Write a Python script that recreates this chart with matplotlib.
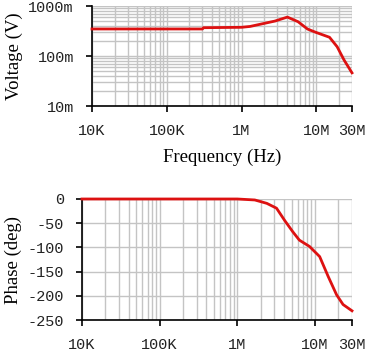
import numpy as np
import matplotlib
matplotlib.use("Agg")
import matplotlib.pyplot as plt
from matplotlib.ticker import FixedLocator, NullFormatter, LogLocator

# Magnitude data
mag_freq = [1e4, 3.0e5, 3.1e5, 1.0e6, 1.3e6, 1.6e6, 2.8e6, 4.1e6, 5.7e6, 7.6e6, 9.8e6, 1.5e7, 1.9e7, 2.35e7, 3.0e7]
mag_volt = [0.347, 0.347, 0.368, 0.375, 0.39, 0.417, 0.50, 0.60, 0.485, 0.347, 0.298, 0.237, 0.153, 0.083, 0.046]

# Phase data
ph_freq = [1e4, 1.0e6, 1.68e6, 2.4e6, 3.2e6, 4.1e6, 5.2e6, 6.3e6, 8.5e6, 1.15e7, 1.48e7, 1.9e7, 2.3e7, 3.0e7]
ph_deg = [0, 0, -2, -9, -19, -45, -68, -85, -98, -119, -160, -198, -218, -231]

x_ticks = [1e4, 1e5, 1e6, 1e7, 3e7]
x_labels = ["10K", "100K", "1M", "10M", "30M"]
mag_ticks = [0.01, 0.1, 1.0]
mag_labels = ["10m", "100m", "1000m"]
ph_ticks = [0, -50, -100, -150, -200, -250]
ph_labels = ["0", "-50", "-100", "-150", "-200", "-250"]

RED = "#dd1111"
GRID = "#c4c4c4"
mono = "Liberation Mono"
serif = "Liberation Serif"

fig = plt.figure(figsize=(3.77, 3.53), dpi=100)
ax1 = fig.add_axes([92/377, 1-106/353, (352-92)/377, 100/353])
ax2 = fig.add_axes([82/377, 1-320/353, (352-82)/377, 121/353])

def style(ax):
    for s in ["top", "right"]:
        ax.spines[s].set_visible(False)
    for s in ["left", "bottom"]:
        ax.spines[s].set_color("black")
        ax.spines[s].set_linewidth(1.2)
        ax.spines[s].set_zorder(4)
    ax.set_xscale("log")
    ax.set_xlim(1e4, 3e7)
    ax.xaxis.set_major_locator(FixedLocator(x_ticks))
    ax.set_xticklabels(x_labels, fontfamily=mono, fontsize=11, color="#222222")
    ax.xaxis.set_minor_locator(LogLocator(base=10, subs=np.arange(2, 10)))
    ax.xaxis.set_minor_formatter(NullFormatter())
    ax.tick_params(axis="both", which="major", direction="out", length=4, width=1.2, pad=9)
    ax.tick_params(axis="both", which="minor", length=0)
    ax.grid(True, which="both", axis="x", color=GRID, lw=1.0)
    ax.set_axisbelow(True)

style(ax1)
ax1.set_yscale("log")
ax1.set_ylim(0.01, 1.0)
ax1.yaxis.set_major_locator(FixedLocator(mag_ticks))
ax1.set_yticklabels(mag_labels, fontfamily=mono, fontsize=11, color="#222222")
ax1.yaxis.set_minor_locator(LogLocator(base=10, subs=np.arange(2, 10)))
ax1.yaxis.set_minor_formatter(NullFormatter())
ax1.tick_params(axis="y", which="minor", length=0)
ax1.grid(True, which="both", axis="y", color=GRID, lw=1.0)
ax1.plot(mag_freq, mag_volt, color=RED, lw=2.0, clip_on=False, zorder=5)
ax1.set_ylabel("Voltage (V)", fontfamily=serif, fontsize=13.5, labelpad=4)
ax1.set_xlabel("Frequency (Hz)", fontfamily=serif, fontsize=13.5, labelpad=8)

style(ax2)
ax2.set_ylim(-250, 0)
ax2.yaxis.set_major_locator(FixedLocator(ph_ticks))
ax2.set_yticklabels(ph_labels, fontfamily=mono, fontsize=11, color="#222222")
ax2.grid(True, which="major", axis="y", color=GRID, lw=1.0)
ax2.plot(ph_freq, ph_deg, color=RED, lw=2.0, clip_on=False, zorder=5)
ax2.set_ylabel("Phase (deg)", fontfamily=serif, fontsize=13.5, labelpad=4)

fig.savefig("out.png", dpi=100)
